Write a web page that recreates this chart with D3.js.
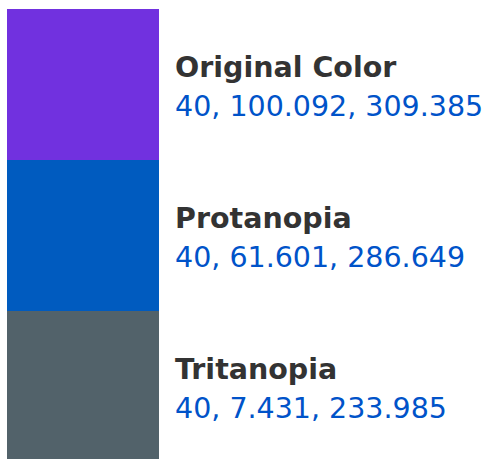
<!DOCTYPE html>
<html>
<head>
<meta charset="utf-8">
<script src="https://cdn.jsdelivr.net/npm/d3@7"></script>
<style>
  body { margin: 0; background: #fff; }
  text { font-family: "DejaVu Sans", sans-serif; }
</style>
</head>
<body>
<div id="chart"></div>
<script>
const width = 487;
const height = 459;

// swatch labels and their L, C, h values
const names = ["Original Color", "Protanopia", "Tritanopia"];
const lum = [40, 40, 40];
const chroma = [100.092, 61.601, 7.431];
const hue = [309.385, 286.649, 233.985];

// colours as shown in the picture (gamut-clipped)
const swatchColors = ["#7131df", "#005bbf", "#52626a"];

const rows = names.map((n, i) => ({ name: n, l: lum[i], c: chroma[i], h: hue[i], color: swatchColors[i] }));

const svg = d3.select("#chart")
    .append("svg")
    .attr("width", width)
    .attr("height", height);

const y = d3.scaleBand()
    .domain(names)
    .range([9, 9 + 151 * 3]);

const g = svg.selectAll("g.row")
    .data(rows)
    .enter()
    .append("g")
    .attr("class", "row")
    .attr("transform", d => `translate(0,${y(d.name)})`);

g.append("rect")
    .attr("x", 7)
    .attr("width", 152)
    .attr("height", y.bandwidth())
    .attr("fill", d => d.color);

g.append("text")
    .attr("x", 175)
    .attr("y", 68)
    .attr("font-size", 28.5)
    .attr("font-weight", "bold")
    .attr("fill", "#333")
    .text(d => d.name);

g.append("text")
    .attr("x", 175)
    .attr("y", 107)
    .attr("font-size", 28.5)
    .attr("fill", "#0053c9")
    .text(d => `${d.l}, ${d.c}, ${d.h}`);
</script>
</body>
</html>
